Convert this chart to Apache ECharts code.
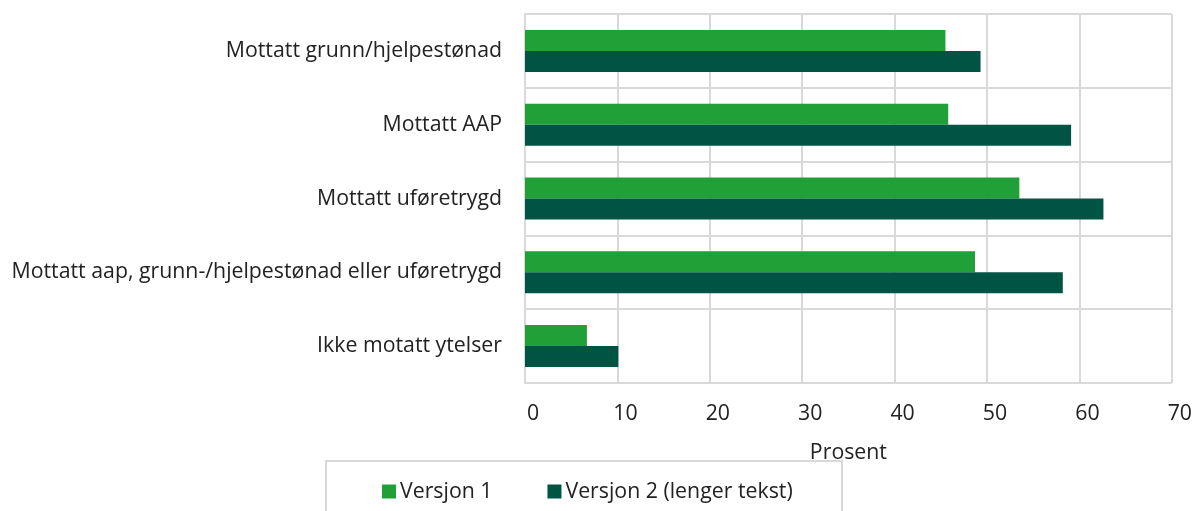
<!DOCTYPE html>
<html>
<head>
<meta charset="utf-8">
<script src="https://cdn.jsdelivr.net/npm/echarts@6/dist/echarts.min.js"></script>
<style>
  html, body { margin: 0; padding: 0; background: #fff; }
  #chart { width: 1195px; height: 511px; }
</style>
</head>
<body>
<div id="chart"></div>
<script>
    // kategorier, ovenfra og ned
    var categories = [
        'Mottatt grunn/hjelpestønad',
        'Mottatt AAP',
        'Mottatt uføretrygd',
        'Mottatt aap, grunn-/hjelpestønad eller uføretrygd',
        'Ikke motatt ytelser'
    ];
    var versjon1 = [45.5, 45.8, 53.5, 48.7, 6.7];
    var versjon2 = [49.3, 59.1, 62.6, 58.2, 10.1];
    var seriesNames = ['Versjon 1', 'Versjon 2 (lenger tekst)'];

    var FONT = '"Open Sans", "Noto Sans", sans-serif';
    var GRID_COLOR = '#d9d9d9';
    var FS = 21.3;

    var chart = echarts.init(document.getElementById('chart'));

    chart.setOption({
        animation: false,
        textStyle: { fontFamily: FONT, color: '#222' },
        grid: { left: 525, right: 22, top: 14, bottom: 128, containLabel: false },
        legend: {
            data: seriesNames,
            left: 377,
            top: 476,
            itemWidth: 14,
            itemHeight: 14,
            itemGap: 55,
            icon: 'rect',
            textStyle: { fontSize: FS, fontFamily: FONT, color: '#222', padding: [0, 0, 0, -1] }
        },
        graphic: [{
            type: 'rect',
            shape: { x: 326, y: 461, width: 516, height: 60 },
            style: { fill: 'none', stroke: GRID_COLOR, lineWidth: 2 }
        }],
        xAxis: {
            type: 'value',
            min: 0,
            max: 70,
            interval: 10,
            name: 'Prosent',
            nameLocation: 'middle',
            nameGap: 59,
            nameTextStyle: { fontSize: FS, fontFamily: FONT, color: '#222' },
            axisLine: { show: false },
            axisTick: { show: false },
            axisLabel: { fontSize: FS, fontFamily: FONT, color: '#222', margin: 20, padding: [0, 0, 0, 16] },
            splitLine: { show: true, lineStyle: { color: GRID_COLOR, width: 2 } }
        },
        yAxis: {
            type: 'category',
            data: categories,
            inverse: true,
            axisLine: { show: true, lineStyle: { color: GRID_COLOR, width: 2 } },
            axisTick: { show: false },
            axisLabel: { fontSize: FS, fontFamily: FONT, color: '#222', margin: 23 },
            splitLine: { show: true, lineStyle: { color: GRID_COLOR, width: 2 } }
        },
        series: [
            {
                name: seriesNames[0],
                type: 'bar',
                data: versjon1,
                barWidth: 21,
                barGap: '0%',
                itemStyle: { color: '#21a038' }
            },
            {
                name: seriesNames[1],
                type: 'bar',
                data: versjon2,
                barWidth: 21,
                barGap: '0%',
                itemStyle: { color: '#005444' }
            }
        ]
    });
</script>
</body>
</html>
